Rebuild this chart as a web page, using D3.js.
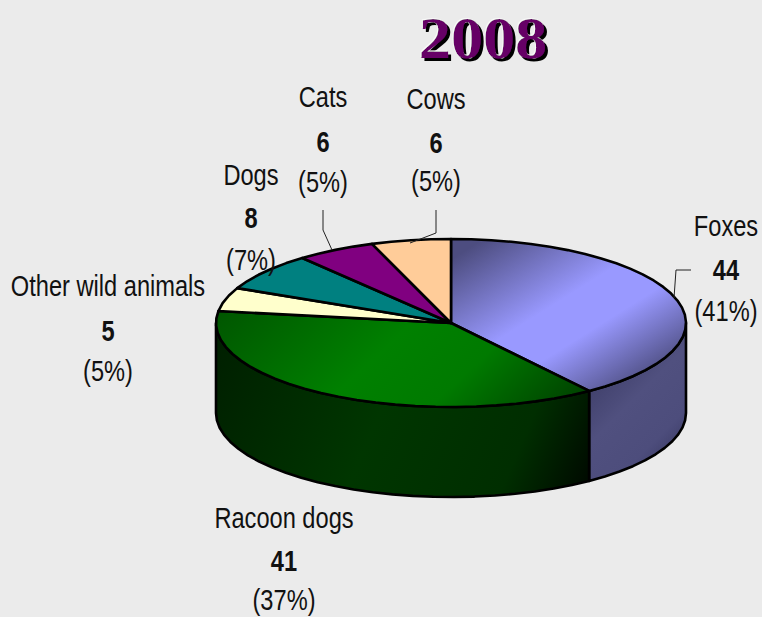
<!DOCTYPE html>
<html>
<head>
<meta charset="UTF-8">
<title>2008</title>
<script src="https://cdn.jsdelivr.net/npm/d3@7"></script>
<style>
body { margin: 0; background: #ebebeb; }
svg { display: block; }
text { font-family: "Liberation Sans", Arial, sans-serif; font-size: 29px; fill: #111; text-anchor: middle; }
</style>
</head>
<body>
<svg id="chart" width="762" height="617"></svg>
<script>
// values, clockwise from 12 o'clock
const categories = ["Foxes", "Racoon dogs", "Other wild animals", "Dogs", "Cats", "Cows"];
const values = [44, 41, 5, 8, 6, 6];
const percents = ["(41%)", "(37%)", "(5%)", "(7%)", "(5%)", "(5%)"];
const sliceColors = ["url(#foxTop)", "url(#greenTop)", "#ffffcc", "#008080", "#800080", "#ffcc99"];
const sideColors = ["url(#foxSide)", "url(#greenSide)"];

// label anchors [x, baselines of the three lines]
const labelPos = [
    [726, [236, 280, 321]],
    [284, [528, 571, 610]],
    [108, [296, 341, 381]],
    [251, [185, 228, 270]],
    [323, [107, 152, 192]],
    [436, [109, 153, 191]]
];
const leaders = [
    [[691, 270], [676, 270], [674, 298]],
    [[323, 210], [323, 230], [332, 250]],
    [[436, 210], [436, 233], [410, 243]]
];

const svg = d3.select("#chart");
const cx = 451, cy = 323, rx = 235, ry = 84, depth = 90;
const textSqueeze = 0.815;

const px = d3.scaleLinear().domain([-1, 1]).range([cx - rx, cx + rx]);
const py = d3.scaleLinear().domain([-1, 1]).range([cy - ry, cy + ry]);

const pie = d3.pie().sort(null).value(d => d);
const arcs = pie(values);

// gradients
const defs = svg.append("defs");
function linear(id, p0, p1, stops) {
    const g = defs.append("linearGradient").attr("id", id)
        .attr("gradientUnits", "userSpaceOnUse")
        .attr("x1", p0[0]).attr("y1", p0[1]).attr("x2", p1[0]).attr("y2", p1[1]);
    stops.forEach(s => g.append("stop").attr("offset", s[0]).attr("stop-color", s[1]));
}
linear("foxTop", [490, 235], [600, 410], [[0, "#4d4d80"], [0.45, "#9999ff"], [0.65, "#9999ff"], [1, "#4d4d80"]]);
linear("greenTop", [200, 240], [480, 540], [[0.15, "#005500"], [0.5, "#008000"], [0.68, "#007a00"], [0.88, "#004a00"], [1, "#003000"]]);
linear("foxSide", [585, 385], [690, 490], [[0, "#3f3f6a"], [0.3, "#50507f"], [0.6, "#4d4d7c"], [1, "#25254a"]]);
linear("greenSide", [216, 330], [590, 490], [[0, "#001f00"], [0.45, "#003600"], [0.8, "#002e00"], [1, "#000800"]]);

// title shadow and highlight
const f = defs.append("filter").attr("id", "titleShadow")
    .attr("x", "-10%").attr("y", "-10%").attr("width", "120%").attr("height", "120%");
f.append("feOffset").attr("in", "SourceAlpha").attr("dx", 3).attr("dy", 3).attr("result", "off");
f.append("feFlood").attr("flood-color", "#000").attr("result", "black");
f.append("feComposite").attr("in", "black").attr("in2", "off").attr("operator", "in").attr("result", "shadow");
f.append("feOffset").attr("in", "SourceAlpha").attr("dx", -1).attr("dy", -1).attr("result", "off2");
f.append("feFlood").attr("flood-color", "#fff").attr("flood-opacity", 0.7).attr("result", "white");
f.append("feComposite").attr("in", "white").attr("in2", "off2").attr("operator", "in").attr("result", "light");
const fm = f.append("feMerge");
["shadow", "light", "SourceGraphic"].forEach(n => fm.append("feMergeNode").attr("in", n));

function edge(a, dy) {
    return [px(Math.sin(a)), py(-Math.cos(a)) + dy];
}
// rim is sampled coarsely, the original has a slightly faceted outline
function rim(a0, a1, dy) {
    const n = Math.max(1, Math.round((a1 - a0) / (Math.PI / 36)));
    return d3.range(n + 1).map(i => edge(a0 + (a1 - a0) * i / n, dy));
}

const line = d3.line();

// sides, only the front half of the cylinder shows
const sideEnds = [[Math.PI / 2, arcs[0].endAngle], [arcs[1].startAngle, Math.PI * 1.5]];
sideEnds.forEach((s, i) => {
    const pts = rim(s[0], s[1], 0).concat(rim(s[0], s[1], depth).reverse());
    svg.append("path")
        .attr("d", line(pts) + "Z")
        .attr("fill", sideColors[i])
        .attr("stroke", "#000")
        .attr("stroke-width", 2.6)
        .attr("stroke-linejoin", "round");
});

// top faces
arcs.forEach((a, i) => {
    const pts = [[cx, cy]].concat(rim(a.startAngle, a.endAngle, 0));
    svg.append("path")
        .attr("d", line(pts) + "Z")
        .attr("fill", sliceColors[i])
        .attr("stroke", "#000")
        .attr("stroke-width", 2.6)
        .attr("stroke-linejoin", "round");
});

// leader lines
leaders.forEach(l => {
    svg.append("path").attr("d", line(l))
        .attr("fill", "none").attr("stroke", "#222").attr("stroke-width", 1);
});

// labels, squeezed to look like the narrow face of the original
function label(x, y, str, bold) {
    svg.append("text")
        .attr("transform", "translate(" + x + "," + y + ") scale(" + textSqueeze + ",1)")
        .style("font-weight", bold ? "bold" : "normal")
        .text(str);
}
categories.forEach((c, i) => {
    const x = labelPos[i][0], ys = labelPos[i][1];
    label(x, ys[0], c, false);
    label(x, ys[1], values[i], true);
    label(x, ys[2], percents[i], false);
});

// title
svg.append("text")
    .attr("transform", "translate(483,58) scale(1.07,1)")
    .attr("filter", "url(#titleShadow)")
    .style("font-family", "'Liberation Serif', 'Times New Roman', serif")
    .style("font-size", "60px").style("font-weight", "bold").style("fill", "#660066")
    .text("2008");
</script>
</body>
</html>
